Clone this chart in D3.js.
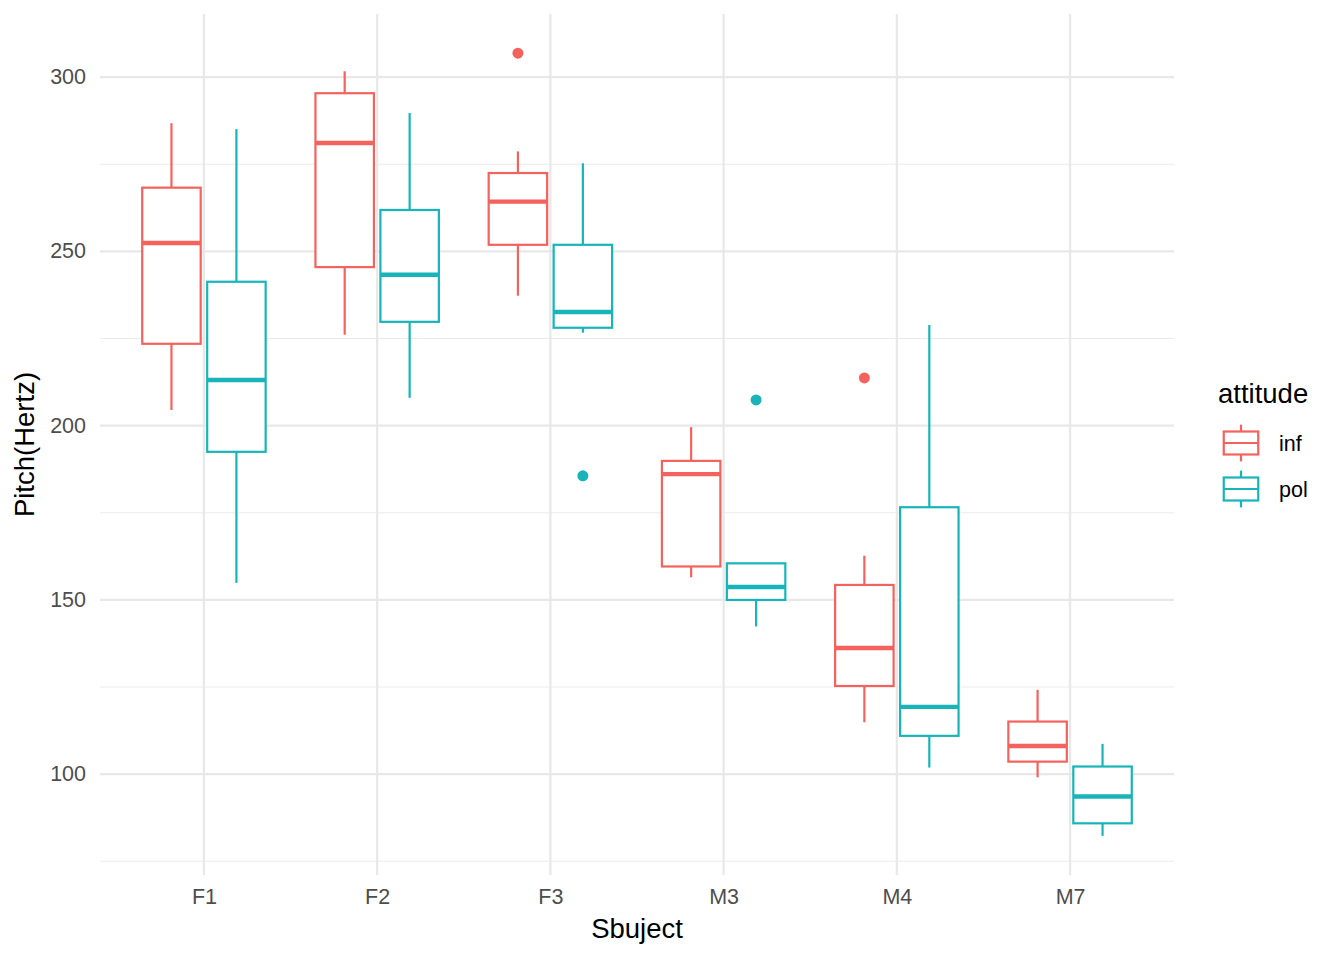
<!DOCTYPE html>
<html>
<head>
<meta charset="utf-8">
<script src="https://cdn.jsdelivr.net/npm/d3@7"></script>
<style>
  html, body { margin: 0; padding: 0; background: #fff; }
  svg { display: block; font-family: "Liberation Sans", Arial, Helvetica, sans-serif; }
</style>
</head>
<body>
<svg id="chart" width="1344" height="960"></svg>
<script>
// ---- data ----
const subjects = ["F1", "F2", "F3", "M3", "M4", "M7"];
const attitudes = ["inf", "pol"];
const attitudeColors = ["#F4625D", "#17B5B9"];

const infLower  = [204.5, 226.1, 237.3, 156.5, 114.9,  99.1];
const infQ1     = [223.5, 245.5, 251.9, 159.6, 125.3, 103.6];
const infMedian = [252.4, 281.1, 264.3, 186.1, 136.2, 108.1];
const infQ3     = [268.3, 295.4, 272.5, 189.9, 154.3, 115.1];
const infUpper  = [286.8, 301.7, 278.7, 199.6, 162.7, 124.2];
const infOutliers = [[], [], [306.9], [], [213.7], []];

const polLower  = [154.9, 208.0, 226.7, 142.4, 101.9,  82.3];
const polQ1     = [192.5, 229.8, 228.1, 150.0, 111.0,  85.9];
const polMedian = [213.1, 243.3, 232.6, 153.7, 119.3,  93.6];
const polQ3     = [241.3, 261.9, 251.9, 160.5, 176.6, 102.2];
const polUpper  = [285.1, 289.7, 275.3, 160.5, 228.9, 108.7];
const polOutliers = [[], [], [185.6], [207.4], [], []];

const yTicks = [100, 150, 200, 250, 300];
const yMinor = [75, 125, 175, 225, 275];
const xTitle = "Sbuject";
const yTitle = "Pitch(Hertz)";
const legendTitle = "attitude";

// ---- build records ----
function build(att, lo, q1, med, q3, up, outs) {
  return subjects.map((s, i) => ({
    subject: s, attitude: att,
    lower: lo[i], q1: q1[i], median: med[i], q3: q3[i], upper: up[i], outliers: outs[i]
  }));
}
const boxes = build("inf", infLower, infQ1, infMedian, infQ3, infUpper, infOutliers)
  .concat(build("pol", polLower, polQ1, polMedian, polQ3, polUpper, polOutliers));

// ---- layout ----
const panel = { left: 100, right: 1174, top: 14, bottom: 875 };
const svg = d3.select("#chart");
const tickFont = 21.5, titleFont = 27.5;

const allVals = boxes.flatMap(b => [b.lower, b.upper, ...b.outliers]);
const vmin = d3.min(allVals), vmax = d3.max(allVals);
const pad = (vmax - vmin) * 0.05;

const x = d3.scalePoint().domain(subjects).range([panel.left, panel.right]).padding(0.6);
const y = d3.scaleLinear().domain([vmin - pad, vmax + pad]).range([panel.bottom, panel.top]);
const color = d3.scaleOrdinal().domain(attitudes).range(attitudeColors);

const step = x.step();
const dodge = d3.scaleBand().domain(attitudes).range([-0.375 * step, 0.375 * step]);
const boxHalf = dodge.bandwidth() * 0.9 / 2;

// ---- grid ----
const grid = svg.append("g");
grid.selectAll("line.minor").data(yMinor).join("line")
  .attr("x1", panel.left).attr("x2", panel.right)
  .attr("y1", d => y(d)).attr("y2", d => y(d))
  .attr("stroke", "#ebebeb").attr("stroke-width", 1.1);
grid.selectAll("line.major").data(yTicks).join("line")
  .attr("x1", panel.left).attr("x2", panel.right)
  .attr("y1", d => y(d)).attr("y2", d => y(d))
  .attr("stroke", "#e8e8e8").attr("stroke-width", 2.2);
grid.selectAll("line.vmajor").data(subjects).join("line")
  .attr("x1", d => x(d)).attr("x2", d => x(d))
  .attr("y1", panel.top).attr("y2", panel.bottom)
  .attr("stroke", "#e8e8e8").attr("stroke-width", 2.2);

// ---- axes (via d3 axis, ticks hidden) ----
const yAxis = svg.append("g")
  .attr("transform", `translate(${panel.left},0)`)
  .call(d3.axisLeft(y).tickValues(yTicks).tickSize(0).tickPadding(14));
yAxis.select(".domain").remove();
yAxis.selectAll("text").attr("fill", "#4d4d4d").attr("font-size", tickFont)
  .attr("dy", "0.3em")
  .attr("font-family", "Liberation Sans, Arial, sans-serif");

const xAxis = svg.append("g")
  .attr("transform", `translate(0,${panel.bottom})`)
  .call(d3.axisBottom(x).tickSize(0).tickPadding(14));
xAxis.select(".domain").remove();
xAxis.selectAll("text").attr("fill", "#4d4d4d").attr("font-size", tickFont)
  .attr("font-family", "Liberation Sans, Arial, sans-serif");

// ---- axis titles ----
svg.append("text").attr("x", (panel.left + panel.right) / 2).attr("y", 938)
  .attr("text-anchor", "middle").attr("font-size", titleFont).attr("fill", "#000").text(xTitle);
svg.append("text")
  .attr("transform", `translate(34,${(panel.top + panel.bottom) / 2}) rotate(-90)`)
  .attr("text-anchor", "middle").attr("font-size", titleFont).attr("fill", "#000").text(yTitle);

// ---- boxes ----
const lw = 2.2;
const g = svg.append("g");
const bx = g.selectAll("g.box").data(boxes).join("g")
  .attr("transform", d => `translate(${x(d.subject) + dodge(d.attitude) + dodge.bandwidth() / 2},0)`);

bx.append("line").attr("x1", 0).attr("x2", 0)
  .attr("y1", d => y(d.upper)).attr("y2", d => y(d.q3))
  .attr("stroke", d => color(d.attitude)).attr("stroke-width", lw);
bx.append("line").attr("x1", 0).attr("x2", 0)
  .attr("y1", d => y(d.q1)).attr("y2", d => y(d.lower))
  .attr("stroke", d => color(d.attitude)).attr("stroke-width", lw);
bx.append("rect")
  .attr("x", -boxHalf).attr("width", 2 * boxHalf)
  .attr("y", d => y(d.q3)).attr("height", d => y(d.q1) - y(d.q3))
  .attr("fill", "#fff").attr("stroke", d => color(d.attitude)).attr("stroke-width", lw);
bx.append("line").attr("x1", -boxHalf).attr("x2", boxHalf)
  .attr("y1", d => y(d.median)).attr("y2", d => y(d.median))
  .attr("stroke", d => color(d.attitude)).attr("stroke-width", lw * 2);
bx.selectAll("circle").data(d => d.outliers.map(v => ({ v, attitude: d.attitude }))).join("circle")
  .attr("cx", 0).attr("cy", d => y(d.v)).attr("r", 5.5)
  .attr("fill", d => color(d.attitude));

// ---- legend ----
const leg = svg.append("g").attr("transform", "translate(1218,0)");
leg.append("text").attr("x", 0).attr("y", 403).attr("font-size", titleFont).attr("fill", "#000").text(legendTitle);
const keySize = 46, keyTop = 420;
const items = leg.selectAll("g.item").data(attitudes).join("g")
  .attr("transform", (d, i) => `translate(0,${keyTop + i * keySize})`);
items.append("line").attr("x1", keySize / 2).attr("x2", keySize / 2)
  .attr("y1", keySize * 0.1).attr("y2", keySize * 0.25)
  .attr("stroke", d => color(d)).attr("stroke-width", lw);
items.append("line").attr("x1", keySize / 2).attr("x2", keySize / 2)
  .attr("y1", keySize * 0.75).attr("y2", keySize * 0.9)
  .attr("stroke", d => color(d)).attr("stroke-width", lw);
items.append("rect").attr("x", keySize * 0.125).attr("width", keySize * 0.75)
  .attr("y", keySize * 0.25).attr("height", keySize * 0.5)
  .attr("fill", "#fff").attr("stroke", d => color(d)).attr("stroke-width", lw);
items.append("line").attr("x1", keySize * 0.125).attr("x2", keySize * 0.875)
  .attr("y1", keySize * 0.5).attr("y2", keySize * 0.5)
  .attr("stroke", d => color(d)).attr("stroke-width", lw);
items.append("text").attr("x", 61).attr("y", keySize / 2).attr("dy", "0.35em")
  .attr("font-size", tickFont).attr("fill", "#000").text(d => d);
</script>
</body>
</html>
